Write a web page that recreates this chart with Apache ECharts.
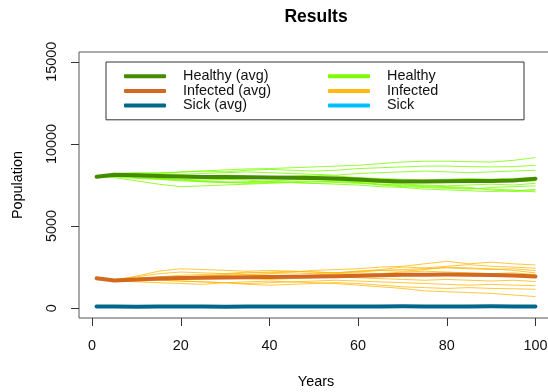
<!DOCTYPE html>
<html>
<head>
<meta charset="utf-8">
<script src="https://cdn.jsdelivr.net/npm/echarts@6/dist/echarts.min.js"></script>
<style>
  html, body { margin: 0; padding: 0; background: #fff; }
  #chart { width: 548px; height: 392px; }
</style>
</head>
<body>
<div id="chart"></div>
<script>
// sampled years
const years = [1, 5, 10, 15, 20, 25, 30, 35, 40, 45, 50, 55, 60, 65, 70, 75, 80, 85, 90, 95, 100];

// averages
const healthyAvg = [8000, 8130, 8090, 8050, 8020, 7990, 7980, 7970, 7950, 7940, 7930, 7900, 7840, 7760, 7720, 7720, 7730, 7740, 7750, 7780, 7880];
const infectedAvg = [1820, 1690, 1750, 1800, 1830, 1850, 1870, 1880, 1900, 1910, 1920, 1940, 1970, 2000, 2030, 2040, 2050, 2040, 2020, 1990, 1930];
const sickAvg = [100, 95, 90, 95, 100, 95, 90, 95, 100, 105, 100, 95, 100, 105, 110, 105, 100, 105, 110, 105, 100];

// single runs
const healthyRuns = [
  [8000, 8150, 8200, 8250, 8280, 8350, 8420, 8480, 8500, 8550, 8600, 8650, 8700, 8800, 8900, 8950, 8950, 8920, 8900, 9000, 9170],
  [8000, 8200, 8250, 8200, 8300, 8350, 8300, 8400, 8450, 8400, 8350, 8400, 8500, 8550, 8600, 8650, 8650, 8620, 8600, 8620, 8700],
  [8000, 8100, 8150, 8180, 8150, 8200, 8250, 8300, 8250, 8200, 8150, 8100, 8200, 8250, 8300, 8350, 8300, 8250, 8300, 8350, 8400],
  [8000, 8080, 8050, 8100, 8000, 8050, 8100, 8050, 8000, 8050, 8100, 8050, 7950, 7900, 7850, 7800, 7850, 7900, 7850, 7900, 7950],
  [8000, 8050, 7950, 7900, 7850, 7800, 7850, 7900, 7950, 7900, 7850, 7800, 7750, 7700, 7650, 7700, 7750, 7800, 7750, 7700, 7750],
  [8000, 7950, 7750, 7550, 7400, 7450, 7500, 7550, 7600, 7650, 7700, 7750, 7700, 7650, 7550, 7500, 7450, 7500, 7550, 7500, 7600],
  [8000, 8100, 8000, 7900, 7850, 7700, 7650, 7700, 7750, 7800, 7850, 7800, 7650, 7500, 7400, 7350, 7300, 7250, 7350, 7400, 7450],
  [8000, 8050, 7950, 7850, 7800, 7750, 7700, 7650, 7700, 7650, 7600, 7550, 7500, 7400, 7350, 7250, 7200, 7150, 7100, 7150, 7230],
  [8000, 8120, 8100, 8000, 7950, 7900, 7850, 7800, 7700, 7650, 7600, 7650, 7600, 7550, 7500, 7450, 7400, 7350, 7200, 7100, 7150],
  [8000, 8000, 7900, 7850, 7750, 7700, 7650, 7600, 7650, 7700, 7750, 7700, 7650, 7550, 7450, 7400, 7350, 7300, 7250, 7200, 7080]
];
const infectedRuns = [
  [1820, 1750, 1900, 2100, 2200, 2150, 2100, 2200, 2150, 2200, 2300, 2350, 2400, 2500, 2550, 2700, 2850, 2700, 2800, 2700, 2630],
  [1820, 1700, 1950, 2250, 2400, 2350, 2300, 2250, 2300, 2250, 2200, 2150, 2250, 2350, 2500, 2450, 2550, 2650, 2550, 2500, 2430],
  [1820, 1680, 1750, 1850, 1900, 1950, 2050, 2150, 2200, 2250, 2200, 2150, 2250, 2300, 2350, 2400, 2450, 2400, 2350, 2400, 2290],
  [1820, 1720, 1800, 1850, 1900, 1950, 2000, 2050, 2000, 1950, 2000, 2100, 2150, 2100, 2200, 2250, 2200, 2150, 2100, 2150, 2050],
  [1820, 1650, 1700, 1800, 1850, 1900, 1950, 1900, 1950, 2000, 1950, 1900, 2000, 2050, 2100, 2050, 2000, 2050, 2000, 1950, 1900],
  [1820, 1700, 1650, 1700, 1750, 1800, 1850, 1800, 1750, 1800, 1850, 1900, 1850, 1800, 1750, 1700, 1750, 1700, 1650, 1700, 1620],
  [1820, 1680, 1720, 1700, 1650, 1600, 1550, 1500, 1550, 1600, 1650, 1700, 1650, 1600, 1550, 1500, 1450, 1400, 1450, 1400, 1370],
  [1820, 1700, 1750, 1700, 1650, 1600, 1550, 1450, 1400, 1450, 1500, 1550, 1500, 1400, 1300, 1250, 1200, 1250, 1200, 1180, 1150],
  [1820, 1650, 1600, 1550, 1500, 1450, 1550, 1600, 1650, 1600, 1550, 1500, 1400, 1300, 1200, 1050, 1000, 950, 900, 800, 705],
  [1820, 1700, 1800, 1900, 2000, 2050, 2100, 2050, 2100, 2150, 2100, 2150, 2200, 2300, 2250, 2350, 2500, 2450, 2400, 2300, 2150]
];
const sickRuns = [
  [100, 80, 70, 75, 80, 90, 85, 80, 75, 80, 90, 95, 90, 85, 80, 90, 100, 95, 90, 85, 80],
  [100, 110, 120, 115, 110, 105, 100, 110, 120, 125, 120, 115, 110, 120, 130, 125, 120, 115, 120, 125, 130],
  [100, 90, 85, 80, 75, 70, 65, 70, 75, 80, 75, 70, 65, 60, 65, 70, 75, 80, 75, 70, 65],
  [100, 95, 100, 105, 110, 100, 95, 90, 95, 100, 105, 110, 115, 110, 105, 100, 105, 110, 115, 110, 105],
  [100, 85, 80, 90, 100, 95, 90, 85, 80, 75, 80, 85, 90, 95, 100, 105, 100, 95, 90, 95, 100]
];

const xTicks = [0, 20, 40, 60, 80, 100];
const yTicks = [0, 5000, 10000, 15000];

const FONT = '"Liberation Sans", Arial, sans-serif';

const colHealthy = '#7CFC00', colInfected = '#FFB90F', colSick = '#00BFFF';
const colHealthyAvg = '#458B00', colInfectedAvg = '#D2691E', colSickAvg = '#00688B';

function pairs(vals) {
  return years.map((y, i) => [y, vals[i]]);
}

function runSeries(name, color, runs) {
  return runs.map(r => ({
    name: name,
    type: 'line',
    data: pairs(r),
    showSymbol: false,
    silent: true,
    itemStyle: { color: color },
    lineStyle: { color: color, width: 1, opacity: 0.8 }
  }));
}

function avgSeries(name, color, vals) {
  return {
    name: name,
    type: 'line',
    data: pairs(vals),
    showSymbol: false,
    silent: true,
    itemStyle: { color: color },
    lineStyle: { color: color, width: 4, cap: 'round', join: 'round' }
  };
}

const series = [].concat(
  runSeries('Healthy', colHealthy, healthyRuns),
  runSeries('Infected', colInfected, infectedRuns),
  runSeries('Sick', colSick, sickRuns),
  [
    avgSeries('Healthy (avg)', colHealthyAvg, healthyAvg),
    avgSeries('Infected (avg)', colInfectedAvg, infectedAvg),
    avgSeries('Sick (avg)', colSickAvg, sickAvg)
  ]
);

const chart = echarts.init(document.getElementById('chart'));

const option = {
  animation: false,
  backgroundColor: '#fff',
  title: {
    text: 'Results',
    left: 311,
    top: 3,
    textAlign: 'center',
    textStyle: { fontFamily: FONT, fontSize: 17.5, fontWeight: 'bold', color: '#000' }
  },
  grid: {
    left: 79,
    top: 52,
    width: 474,
    height: 266,
    show: true,
    borderColor: '#555',
    borderWidth: 1,
    outerBoundsMode: 'none'
  },
  legend: {
    orient: 'vertical',
    left: 106,
    top: 62,
    height: 44,
    itemGap: 0,
    padding: [7, 47, 7, 18],
    borderColor: '#333',
    borderWidth: 1,
    icon: 'roundRect',
    itemWidth: 42,
    itemHeight: 4,
    selectedMode: false,
    textStyle: {
      fontFamily: FONT, fontSize: 14.4, color: '#111',
      lineHeight: 14.6, width: 145, padding: [0, 0, 0, 12]
    },
    data: [
      { name: 'Healthy (avg)', itemStyle: { color: colHealthyAvg } },
      { name: 'Infected (avg)', itemStyle: { color: colInfectedAvg } },
      { name: 'Sick (avg)', itemStyle: { color: colSickAvg } },
      { name: 'Healthy', itemStyle: { color: colHealthy, opacity: 1 }, textStyle: { width: 90 } },
      { name: 'Infected', itemStyle: { color: colInfected, opacity: 1 }, textStyle: { width: 90 } },
      { name: 'Sick', itemStyle: { color: colSick, opacity: 1 }, textStyle: { width: 90 } }
    ]
  },
  xAxis: {
    type: 'value',
    min: -2.96,
    max: 103.96,
    name: 'Years',
    nameLocation: 'middle',
    nameGap: 57,
    nameTextStyle: { fontFamily: FONT, fontSize: 14.4, color: '#000' },
    axisLine: { show: false, onZero: false },
    splitLine: { show: false },
    axisTick: {
      show: true, inside: false, length: 8, customValues: xTicks,
      lineStyle: { color: '#333' }
    },
    axisLabel: {
      customValues: xTicks, margin: 21,
      fontFamily: FONT, fontSize: 14.4, color: '#111'
    }
  },
  yAxis: {
    type: 'value',
    min: -600,
    max: 15600,
    name: 'Population',
    nameLocation: 'middle',
    nameGap: 54,
    nameTextStyle: { fontFamily: FONT, fontSize: 14.4, color: '#000' },
    axisLine: { show: false, onZero: false },
    splitLine: { show: false },
    axisTick: {
      show: true, inside: false, length: 8, customValues: yTicks,
      lineStyle: { color: '#333' }
    },
    axisLabel: {
      customValues: yTicks, rotate: 90, margin: 20,
      formatter: v => String(v),
      fontFamily: FONT, fontSize: 14.4, color: '#111'
    }
  },
  series: series
};

chart.setOption(option);
</script>
</body>
</html>
